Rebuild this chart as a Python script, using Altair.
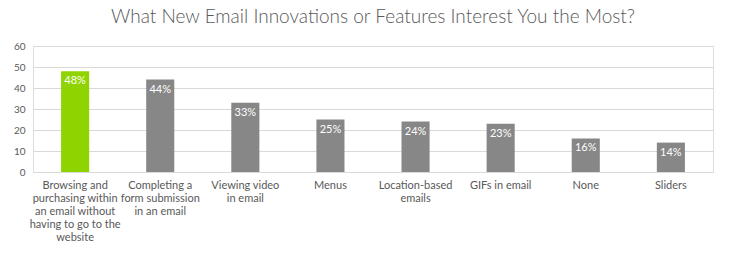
import altair as alt
import pandas as pd

categories = [
    "Browsing and\npurchasing within\nan email without\nhaving to go to the\nwebsite",
    "Completing a\nform submission\nin an email",
    "Viewing video\nin email",
    "Menus",
    "Location-based\nemails",
    "GIFs in email",
    "None",
    "Sliders",
]
values = [48, 44, 33, 25, 24, 23, 16, 14]
highlight = [True, False, False, False, False, False, False, False]
y_ticks = [0, 10, 20, 30, 40, 50, 60]

df = pd.DataFrame({"cat": categories, "val": values, "hl": highlight})
df["lbl"] = df["val"].astype(str) + "%"

FONT = "Lato"

x = alt.X("cat:N", sort=categories, title=None,
          scale=alt.Scale(paddingInner=0.67, paddingOuter=0.33),
          axis=alt.Axis(labelAngle=0, labelExpr="split(datum.label, '\\n')",
                        labelFontSize=11, labelColor="#595959", labelFont=FONT,
                        labelLineHeight=13, labelPadding=7, ticks=False,
                        domainColor="#d9d9d9", labelLimit=200))
y = alt.Y("val:Q", title=None,
          scale=alt.Scale(domain=[0, 60], nice=False),
          axis=alt.Axis(values=y_ticks, domain=False, ticks=False, labelOverlap=False,
                        labelFontSize=10, labelColor="#595959", labelFont=FONT,
                        labelPadding=8, gridColor="#d9d9d9"))

bars = alt.Chart(df).mark_bar().encode(
    x=x, y=y,
    color=alt.Color("hl:N", scale=alt.Scale(domain=[True, False], range=["#8fd400", "#878787"]), legend=None),
)
text = alt.Chart(df).mark_text(baseline="top", dy=4, color="white", fontSize=11, font=FONT).encode(
    x=x, y=y, text="lbl:N")

chart = (bars + text).properties(
    width=680, height=126,
    title=alt.TitleParams("What New Email Innovations or Features Interest You the Most?",
                          fontSize=19, fontWeight=300, font=FONT, color="#595959", offset=14),
    autosize="none",
    padding={"left": 33, "top": 46, "right": 17, "bottom": 81},
).configure_view(stroke=None).configure(background="white")

chart.save("out.html", embed_options={"renderer": "svg", "actions": False})
